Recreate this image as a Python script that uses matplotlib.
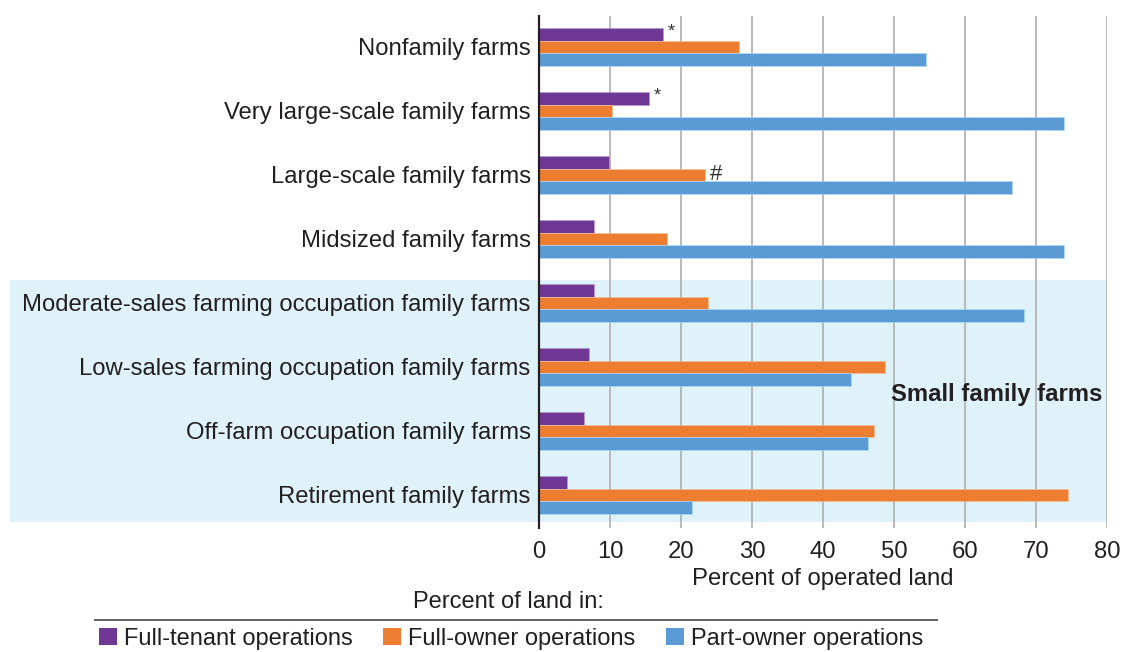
import matplotlib
matplotlib.use("Agg")
import matplotlib.pyplot as plt
import numpy as np
from matplotlib.patches import Rectangle
from matplotlib.transforms import blended_transform_factory
from matplotlib.lines import Line2D

categories = [
    "Nonfamily farms",
    "Very large-scale family farms",
    "Large-scale family farms",
    "Midsized family farms",
    "Moderate-sales farming occupation family farms",
    "Low-sales farming occupation family farms",
    "Off-farm occupation family farms",
    "Retirement family farms",
]
full_tenant = [17.4, 15.5, 9.9, 7.8, 7.7, 7.1, 6.4, 3.9]
full_owner = [28.1, 10.3, 23.4, 18.0, 23.8, 48.8, 47.2, 74.5]
part_owner = [54.5, 74.0, 66.6, 74.0, 68.3, 44.0, 46.3, 21.5]
series_names = ["Full-tenant operations", "Full-owner operations", "Part-owner operations"]
markers = {0: ("*", 0), 1: ("*", 0), 2: ("#", 1)}  # category index -> (symbol, series index)
xticks = [0, 10, 20, 30, 40, 50, 60, 70, 80]

colors = ["#6e3894", "#ed7d31", "#5b9bd5"]
edge_colors = ["#b59ccb", "#f6be98", "#addcf0"]
band_color = "#dff1f9"
text_color = "#231f20"

plt.rcParams["font.family"] = ["Liberation Sans", "DejaVu Sans"]
FS = 17.2

W, H = 1130, 652
fig = plt.figure(figsize=(W / 100, H / 100), dpi=100)
left, right, top, bottom = 539, 1107, 16, 528
ax = fig.add_axes([left / W, 1 - bottom / H, (right - left) / W, (bottom - top) / H])

y = np.arange(len(categories))
bh = 0.2
series = [full_tenant, full_owner, part_owner]
offsets = [-0.2, 0.0, 0.2]
for vals, off, c, ec, name in zip(series, offsets, colors, edge_colors, series_names):
    ax.barh(y + off, vals, height=bh, color=c, edgecolor=ec, linewidth=0.5, zorder=3, label=name)

for ci, (sym, si) in markers.items():
    v = series[si][ci]
    fs = 13 if sym == "*" else 16
    dy = -0.04 if sym == "*" else 0.0
    ax.text(v + 0.7, y[ci] + offsets[si] + dy, sym, ha="left", va="center",
            fontsize=fs, color="#333333", zorder=4)

ax.set_xlim(0, 80)
ax.set_ylim(7.516, -0.484)
ax.set_xticks(xticks)
ax.set_xticklabels([str(t) for t in xticks], fontsize=FS, color=text_color)
ax.set_yticks(y)
ax.set_yticklabels(categories, fontsize=FS, color=text_color)
ax.tick_params(axis="y", length=0, pad=6)
ax.tick_params(axis="x", length=0, pad=9)
ax.xaxis.grid(True, color="#b3b3b3", linewidth=1.3, zorder=1)
ax.set_axisbelow(True)
for s in ["top", "right", "bottom"]:
    ax.spines[s].set_visible(False)
ax.spines["left"].set_color("#231f20")
ax.spines["left"].set_linewidth(1.6)
ax.spines["left"].set_zorder(5)
ax.set_facecolor("none")

# shaded band for small family farms
tr = blended_transform_factory(fig.transFigure, ax.transData)
band_top, band_bot = 3.64, 7.422
ax.add_patch(Rectangle((10 / W, band_top), (right - 10) / W, band_bot - band_top,
                       transform=tr, facecolor=band_color, edgecolor="none",
                       zorder=0, clip_on=False))
ax.text(79.3, 5.43, "Small family farms", ha="right", va="center",
        fontsize=FS, fontweight="bold", color=text_color, zorder=4)

ax.set_xlabel("Percent of operated land", fontsize=FS, color=text_color, labelpad=4)

# legend block
fig.text(508 / W, 1 - 602 / H, "Percent of land in:", ha="center", va="center",
         fontsize=17, color=text_color)
fig.add_artist(Line2D([95 / W, 937 / W], [1 - 620 / H, 1 - 620 / H], color="#555555", linewidth=1.3))
handles = [Rectangle((0, 0), 1, 1, facecolor=c, edgecolor="none") for c in colors]
fig.legend(handles, series_names, loc="center", bbox_to_anchor=(511 / W, 1 - 639 / H),
           ncol=3, frameon=False, fontsize=17, handlelength=0.75, handleheight=0.75,
           handletextpad=0.3, columnspacing=1.3, borderpad=0, labelcolor=text_color)

fig.savefig("out.png", dpi=100)
